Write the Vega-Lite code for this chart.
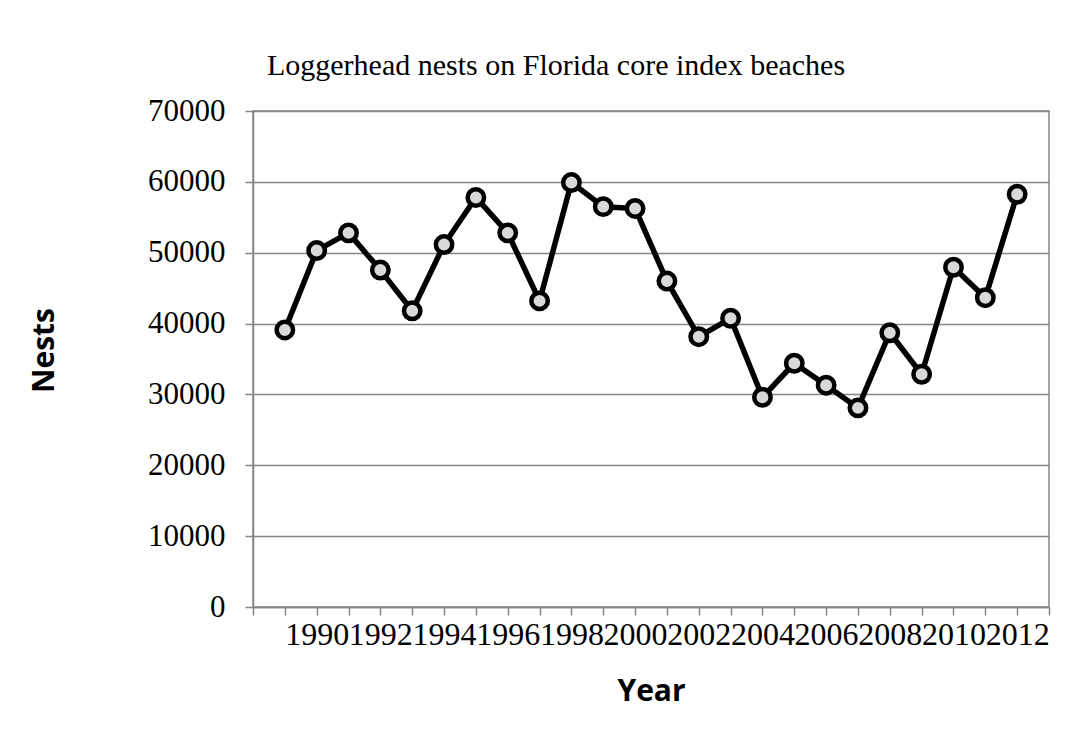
{
  "$schema": "https://vega.github.io/schema/vega-lite/v6.json",
  "width": 796,
  "height": 496,
  "autosize": {"type": "none"},
  "padding": {"left": 253, "top": 111, "right": 40, "bottom": 127},
  "background": "white",
  "title": {
    "text": "Loggerhead nests on Florida core index beaches",
    "font": "Liberation Serif",
    "fontSize": 30,
    "fontWeight": "normal",
    "color": "black",
    "anchor": "middle",
    "frame": "group",
    "dx": -95,
    "offset": 14
  },
  "data": {
    "values": [
      {"Year": 1989, "Nests": 39100},
      {"Year": 1990, "Nests": 50300},
      {"Year": 1991, "Nests": 52800},
      {"Year": 1992, "Nests": 47550},
      {"Year": 1993, "Nests": 41800},
      {"Year": 1994, "Nests": 51150},
      {"Year": 1995, "Nests": 57800},
      {"Year": 1996, "Nests": 52800},
      {"Year": 1997, "Nests": 43200},
      {"Year": 1998, "Nests": 59900},
      {"Year": 1999, "Nests": 56500},
      {"Year": 2000, "Nests": 56250},
      {"Year": 2001, "Nests": 46000},
      {"Year": 2002, "Nests": 38150},
      {"Year": 2003, "Nests": 40750},
      {"Year": 2004, "Nests": 29600},
      {"Year": 2005, "Nests": 34400},
      {"Year": 2006, "Nests": 31300},
      {"Year": 2007, "Nests": 28100},
      {"Year": 2008, "Nests": 38700},
      {"Year": 2009, "Nests": 32850},
      {"Year": 2010, "Nests": 47950},
      {"Year": 2011, "Nests": 43650},
      {"Year": 2012, "Nests": 58250}
    ]
  },
  "encoding": {
    "x": {
      "field": "Year",
      "type": "quantitative",
      "scale": {"domain": [1988, 2013], "nice": false, "zero": false},
      "axis": {
        "title": "Year",
        "values": [1988, 1989, 1990, 1991, 1992, 1993, 1994, 1995, 1996, 1997, 1998, 1999, 2000, 2001, 2002, 2003, 2004, 2005, 2006, 2007, 2008, 2009, 2010, 2011, 2012, 2013],
        "labelExpr": "(datum.value % 2 == 0 && datum.value >= 1990 && datum.value <= 2012) ? format(datum.value, 'd') : ''",
        "labelOverlap": false,
        "labelFlush": false,
        "labelBound": false,
        "labelFontSize": 32,
        "grid": false,
        "tickSize": 8,
        "labelPadding": 4,
        "titlePadding": 26
      }
    },
    "y": {
      "field": "Nests",
      "type": "quantitative",
      "scale": {"domain": [0, 70000], "nice": false},
      "axis": {
        "title": "Nests",
        "values": [0, 10000, 20000, 30000, 40000, 50000, 60000, 70000],
        "format": "d",
        "grid": true,
        "tickSize": 8,
        "labelPadding": 20,
        "labelFontSize": 31,
        "titlePadding": 88,
        "titleY": 239
      }
    }
  },
  "layer": [
    {"mark": {"type": "line", "color": "black", "strokeWidth": 5.5, "strokeJoin": "round"}},
    {"mark": {"type": "point", "filled": true, "fill": "#d9d9d9", "stroke": "black", "strokeWidth": 4.5, "size": 270, "opacity": 1, "shape": "circle"}}
  ],
  "config": {
    "view": {"stroke": "#868686", "strokeWidth": 1.5},
    "axis": {
      "labelFont": "Liberation Serif",
      "labelFontSize": 30,
      "labelColor": "black",
      "titleFont": "Open Sans",
      "titleFontSize": 30,
      "titleFontWeight": "bold",
      "titleColor": "black",
      "domainColor": "#868686",
      "domainWidth": 1.5,
      "tickColor": "#868686",
      "tickWidth": 1.5,
      "gridColor": "#868686",
      "gridWidth": 1.5,
      "gridOpacity": 1
    }
  }
}
